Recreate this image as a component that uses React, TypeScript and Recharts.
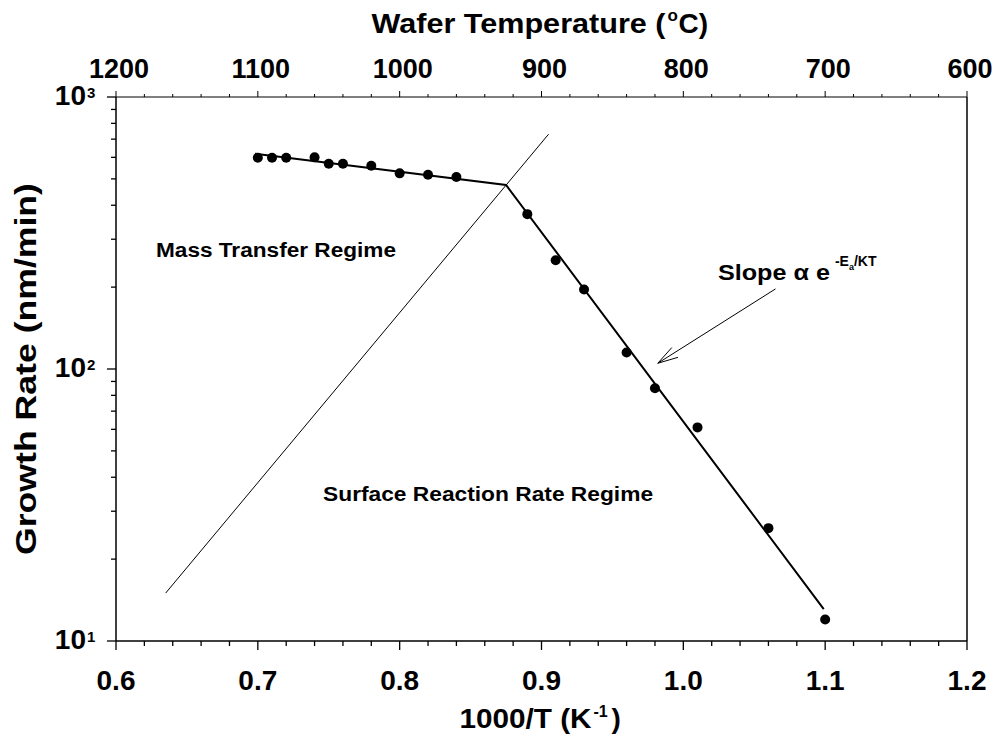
import { ComposedChart, XAxis, YAxis, Line, Scatter, ReferenceLine, ReferenceDot, Label } from "recharts"

const FONT = '"Liberation Sans", Arial, Helvetica, sans-serif'

// measured growth rate (nm/min) against 1000/T (K^-1)
const invTemp = [0.7, 0.71, 0.72, 0.74, 0.75, 0.76, 0.78, 0.8, 0.82, 0.84, 0.89, 0.91, 0.93, 0.96, 0.98, 1.01, 1.06, 1.1]
const growthRate = [598, 598, 598, 600, 568, 568, 559, 524, 518, 508, 371, 251, 196, 115, 85, 61, 26, 12]

// two-segment fit: mass transfer plateau, then the activated drop
const fitX = [0.698, 0.875, 1.099]
const fitY = [619, 475, 13.1]

// thin line splitting the two regimes
const boundaryX = [0.635, 0.905]
const boundaryY = [15, 730]

// arrow pointing at the steep segment (tail, head)
const arrowX = [1.065, 0.982]
const arrowY = [197, 105]

// axis ticks
const invTempMajor = [0.6, 0.7, 0.8, 0.9, 1.0, 1.1, 1.2]
const tempMajor = [1200, 1100, 1000, 900, 800, 700, 600]
const rateMajor = [10, 100, 1000]

const invTempTicks = Array.from({ length: 31 }, (_, i) => +(0.6 + i * 0.02).toFixed(2))
const tempTicks = Array.from({ length: 31 }, (_, i) => 1200 - i * 20)
const rateTicks = [
  ...rateMajor.slice(0, -1).flatMap((d) => [1, 2, 3, 4, 5, 6, 7, 8, 9].map((m) => d * m)),
  rateMajor[rateMajor.length - 1],
]

const points = invTemp.map((x, i) => ({ x, y: growthRate[i] }))
const fit = fitX.map((x, i) => ({ x, y: fitY[i] }))
const boundary = boundaryX.map((x, i) => ({ x, y: boundaryY[i] }))
// empty series so the temperature axis gets a scale
const tempAxisRows = tempMajor.map((t) => ({ t, y: null }))

const isMajor = (list: number[], v: number) => list.some((m) => Math.abs(m - v) < 1e-6)

const BottomTick = ({ x, y, payload }: any) => {
  const major = isMajor(invTempMajor, payload.value)
  return (
    <g>
      <line x1={x} y1={y} x2={x} y2={y + (major ? 9 : 5)} stroke="#000" strokeWidth={1.3} />
      {major && (
        <text x={x} y={y + 49} textAnchor="middle" fontSize={28} fontWeight="bold" fontFamily={FONT} fill="#000">
          {payload.value.toFixed(1)}
        </text>
      )}
    </g>
  )
}

const TopTick = ({ x, y, payload }: any) => {
  const major = isMajor(tempMajor, payload.value)
  return (
    <g>
      <line x1={x} y1={y} x2={x} y2={y - (major ? 6 : 3)} stroke="#000" strokeWidth={1} />
      {major && (
        <text x={x + 3} y={y - 19} textAnchor="middle" fontSize={27} fontWeight="bold" fontFamily={FONT} fill="#000">
          {payload.value}
        </text>
      )}
    </g>
  )
}

const LeftTick = ({ x, y, payload }: any) => {
  const major = isMajor(rateMajor, payload.value)
  const exp = Math.round(Math.log10(payload.value))
  return (
    <g>
      <line x1={x} y1={y} x2={x - (major ? 9 : 5)} y2={y} stroke="#000" strokeWidth={1.3} />
      {major && (
        <g fontWeight="bold" fontFamily={FONT} fill="#000">
          <text x={x - 30} y={y + 8} textAnchor="end" fontSize={28}>
            10
          </text>
          <text x={x - 29} y={y + 1} textAnchor="start" fontSize={15}>
            {exp}
          </text>
        </g>
      )}
    </g>
  )
}

const Dot = ({ cx, cy }: any) => <circle cx={cx} cy={cy} r={5} fill="#000" />

const Arrow = ({ x1, y1, x2, y2 }: any) => {
  const ang = Math.atan2(y1 - y2, x1 - x2)
  const len = 21
  const spread = (16 * Math.PI) / 180
  const l1 = { x: x2 + len * Math.cos(ang - spread), y: y2 + len * Math.sin(ang - spread) }
  const l2 = { x: x2 + len * Math.cos(ang + spread), y: y2 + len * Math.sin(ang + spread) }
  return (
    <g stroke="#000" strokeWidth={1} fill="none">
      <line x1={x1} y1={y1} x2={x2} y2={y2} />
      <polyline points={`${l1.x},${l1.y} ${x2},${y2} ${l2.x},${l2.y}`} />
    </g>
  )
}

const textStyle = { fontFamily: FONT, fontWeight: "bold" as const, fill: "#000" }

const MassLabel = ({ cx, cy }: any) => (
  <text x={cx} y={cy} fontSize={20} textLength={240} lengthAdjust="spacingAndGlyphs" {...textStyle}>
    Mass Transfer Regime
  </text>
)

const SurfaceLabel = ({ cx, cy }: any) => (
  <text x={cx} y={cy} fontSize={20} textLength={330} lengthAdjust="spacingAndGlyphs" {...textStyle}>
    Surface Reaction Rate Regime
  </text>
)

const SlopeLabel = ({ cx, cy }: any) => (
  <g {...textStyle}>
    <text x={cx} y={cy} fontSize={22} textLength={112} lengthAdjust="spacingAndGlyphs">
      Slope α e
    </text>
    <text x={cx + 117} y={cy - 14} fontSize={14}>
      -E
      <tspan dy={4} fontSize={9}>
        a
      </tspan>
      <tspan dy={-4}>/KT</tspan>
    </text>
  </g>
)

export default function App() {
  return (
    <div style={{ position: "absolute", left: 0, top: 0, width: 995, height: 751, background: "#fff" }}>
      <ComposedChart width={995} height={751} margin={{ top: 57, right: 28, bottom: 70, left: 56 }}>
        <XAxis
          dataKey="x"
          type="number"
          domain={[0.6, 1.2]}
          ticks={invTempTicks}
          interval={0}
          allowDataOverflow
          height={40}
          tickSize={0}
          tickMargin={0}
          tickLine={false}
          axisLine={{ stroke: "#000", strokeWidth: 1.5 }}
          tick={<BottomTick />}
        >
          <Label
            content={({ viewBox }: any) => {
              const left = viewBox.x + viewBox.width / 2 - 82
              const base = viewBox.y + 87
              return (
                <g {...textStyle}>
                  <text x={left} y={base} fontSize={28} textLength={132} lengthAdjust="spacingAndGlyphs">
                    1000/T (K
                  </text>
                  <text x={left + 134} y={base - 11} fontSize={16}>
                    -1
                  </text>
                  <text x={left + 152} y={base} fontSize={28}>
                    )
                  </text>
                </g>
              )
            }}
          />
        </XAxis>
        <XAxis
          xAxisId="top"
          dataKey="t"
          orientation="top"
          type="number"
          domain={[600, 1200]}
          reversed
          ticks={tempTicks}
          interval={0}
          allowDataOverflow
          height={40}
          tickSize={0}
          tickMargin={0}
          tickLine={false}
          axisLine={{ stroke: "#000", strokeWidth: 1 }}
          tick={<TopTick />}
        >
          <Label
            content={({ viewBox }: any) => {
              const left = viewBox.x + viewBox.width / 2 - 170
              const base = viewBox.y - 24
              return (
                <g {...textStyle}>
                  <text x={left} y={base} fontSize={28} textLength={294} lengthAdjust="spacingAndGlyphs">
                    Wafer Temperature (
                  </text>
                  <text x={left + 296} y={base - 12} fontSize={17}>
                    o
                  </text>
                  <text x={left + 307} y={base} fontSize={28}>
                    C)
                  </text>
                </g>
              )
            }}
          />
        </XAxis>
        <YAxis
          dataKey="y"
          type="number"
          scale="log"
          domain={[10, 1000]}
          ticks={rateTicks}
          interval={0}
          allowDataOverflow
          width={60}
          tickSize={0}
          tickMargin={0}
          tickLine={false}
          axisLine={{ stroke: "#000", strokeWidth: 1.5 }}
          tick={<LeftTick />}
        >
          <Label
            content={({ viewBox }: any) => {
              const cx = viewBox.x - 20
              const cy = viewBox.y + viewBox.height / 2
              return (
                <text
                  x={cx}
                  y={cy}
                  textAnchor="middle"
                  fontSize={30}
                  textLength={372}
                  lengthAdjust="spacingAndGlyphs"
                  transform={`rotate(-90 ${cx} ${cy})`}
                  {...textStyle}
                >
                  Growth Rate (nm/min)
                </text>
              )
            }}
          />
        </YAxis>
        <ReferenceLine x={1.2} stroke="#000" strokeWidth={1.5} ifOverflow="visible" />
        <Line
          xAxisId="top"
          data={tempAxisRows}
          dataKey="y"
          stroke="none"
          dot={false}
          activeDot={false}
          legendType="none"
          isAnimationActive={false}
        />
        <Line
          data={boundary}
          dataKey="y"
          stroke="#000"
          strokeWidth={1}
          dot={false}
          activeDot={false}
          isAnimationActive={false}
        />
        <Line
          data={fit}
          dataKey="y"
          stroke="#000"
          strokeWidth={2}
          dot={false}
          activeDot={false}
          isAnimationActive={false}
        />
        <Scatter data={points} dataKey="y" shape={<Dot />} isAnimationActive={false} />
        <ReferenceLine
          segment={[
            { x: arrowX[0], y: arrowY[0] },
            { x: arrowX[1], y: arrowY[1] },
          ]}
          shape={<Arrow />}
          ifOverflow="visible"
        />
        <ReferenceDot x={0.6282} y={258} shape={<MassLabel />} ifOverflow="visible" />
        <ReferenceDot x={0.746} y={32.7} shape={<SurfaceLabel />} ifOverflow="visible" />
        <ReferenceDot x={1.0244} y={212} shape={<SlopeLabel />} ifOverflow="visible" />
      </ComposedChart>
    </div>
  )
}
